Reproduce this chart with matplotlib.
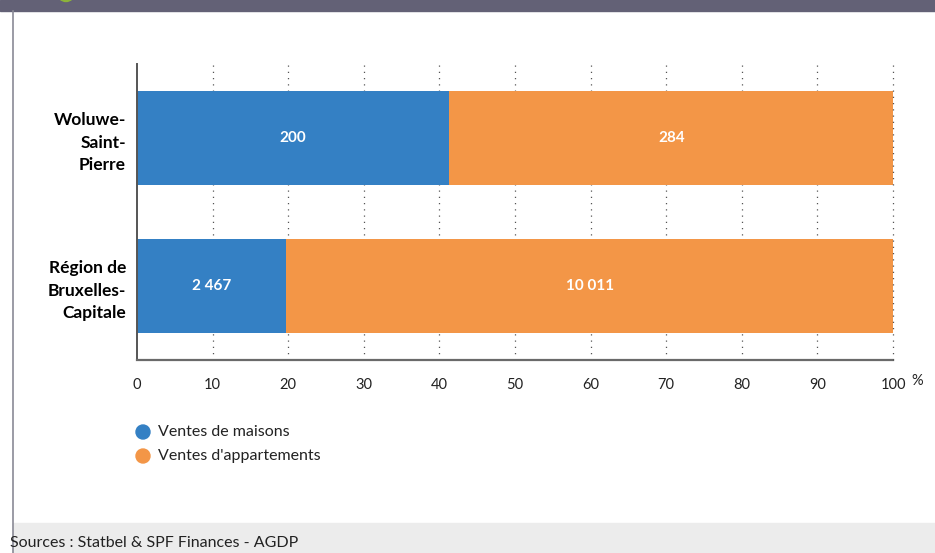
import matplotlib.pyplot as plt
from matplotlib.patches import Rectangle, Circle

# sales counts per area
areas = ["Woluwe-\nSaint-\nPierre", "Région de\nBruxelles-\nCapitale"]
houses = [200, 2467]
flats = [284, 10011]
series_names = ["Ventes de maisons", "Ventes d'appartements"]
xticks = [0, 10, 20, 30, 40, 50, 60, 70, 80, 90, 100]

BLUE = "#3480c4"
ORANGE = "#f39647"
BAND = "#636176"

plt.rcParams['font.family'] = ['Lato', 'DejaVu Sans']

W, H = 935, 553
fig = plt.figure(figsize=(W / 100, H / 100), dpi=100)

# frame decorations in pixel space
deco = fig.add_axes([0, 0, 1, 1])
deco.set_xlim(0, W)
deco.set_ylim(H, 0)
deco.axis('off')
deco.add_patch(Rectangle((0, 0), W, 11, color=BAND, zorder=1))
deco.add_patch(Circle((66, -7), 8.5, color="#8db33a", zorder=2))
deco.add_patch(Rectangle((13, 523), W - 13, 30, color="#ececec", zorder=1))
deco.plot([12.5, 12.5], [11, H], color="#8a8a96", lw=1.2, zorder=3)
deco.text(10, 543, "Sources : Statbel & SPF Finances - AGDP", fontsize=11.5,
          color="#222222", va='center', ha='left')

# percentage shares
pct_h = [h / (h + f) * 100 for h, f in zip(houses, flats)]
pct_f = [f / (h + f) * 100 for h, f in zip(houses, flats)]

ax = fig.add_axes([137 / W, 1 - 360 / H, 756 / W, 296 / H])
ypos = list(range(len(areas)))
ax.barh(ypos, pct_h, height=0.64, color=BLUE, zorder=2)
ax.barh(ypos, pct_f, left=pct_h, height=0.64, color=ORANGE, zorder=2)

def fmt(v):
    return f"{v:,}".replace(",", " ")

for y, ph, pf, h, f in zip(ypos, pct_h, pct_f, houses, flats):
    ax.text(ph / 2, y, fmt(h), color="white", fontweight='bold', fontsize=11,
            ha='center', va='center', zorder=4)
    ax.text(ph + pf / 2, y, fmt(f), color="white", fontweight='bold', fontsize=11,
            ha='center', va='center', zorder=4)

ax.set_xlim(0, 100)
ax.set_ylim(1.5, -0.5)
ax.set_xticks(xticks)
ax.set_xticklabels([str(t) for t in xticks], fontsize=10.5, color="#222222")
ax.tick_params(axis='x', length=0, pad=13)
ax.set_yticks(ypos)
ax.set_yticklabels(areas, fontsize=12.5, fontweight='bold', linespacing=1.48)
ax.tick_params(axis='y', length=0, pad=8)
for lab in ax.get_yticklabels():
    lab.set_ha('right')
    lab.set_multialignment('right')

# dotted guides; the last one sits on top of the bar ends
for t in xticks[1:]:
    ax.axvline(t, color="#555555", lw=0.9, ls=(0, (1, 4)),
               zorder=3 if t == 100 else 1, clip_on=False)

for s in ['top', 'right']:
    ax.spines[s].set_visible(False)
ax.spines['left'].set_color("#555555")
ax.spines['bottom'].set_color("#6a6a6a")
ax.spines['left'].set_linewidth(1.4)
ax.spines['bottom'].set_linewidth(1.6)

deco.text(911, 381, "%", fontsize=10.5, color="#222222", va='center', ha='left')

# legend drawn as dots and labels
for i, (name, col) in enumerate(zip(series_names, [BLUE, ORANGE])):
    y = 432 + i * 24
    deco.add_patch(Circle((143, y), 7, color=col, zorder=2))
    deco.text(158, y, name, fontsize=11.5, color="#222222", va='center', ha='left')

fig.savefig("out.png", dpi=100)
